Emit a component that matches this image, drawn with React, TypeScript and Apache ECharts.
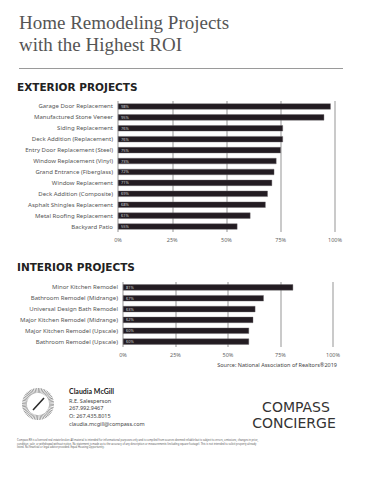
import React, { useEffect, useRef } from "react";
import * as echarts from "echarts";

const extCategories = [
  "Garage Door Replacement",
  "Manufactured Stone Veneer",
  "Siding Replacement",
  "Deck Addition (Replacement)",
  "Entry Door Replacement (Steel)",
  "Window Replacement (Vinyl)",
  "Grand Entrance (Fiberglass)",
  "Window Replacement",
  "Deck Addition (Composite)",
  "Asphalt Shingles Replacement",
  "Metal Roofing Replacement",
  "Backyard Patio",
];
const extValues = [98, 95, 76, 76, 75, 73, 72, 71, 69, 68, 61, 55];

const intCategories = [
  "Minor Kitchen Remodel",
  "Bathroom Remodel (Midrange)",
  "Universal Design Bath Remodel",
  "Major Kitchen Remodel (Midrange)",
  "Major Kitchen Remodel (Upscale)",
  "Bathroom Remodel (Upscale)",
];
const intValues = [81, 67, 63, 62, 60, 60];

const SANS = "'Noto Sans', 'DejaVu Sans', sans-serif";
const BAR = "#231c22";
const GRID = "#bdbdbd";

function xAxisDef(gridIndex: number) {
  return {
    type: "value" as const,
    gridIndex,
    min: 0,
    max: 100,
    interval: 25,
    axisLine: { show: false },
    axisTick: { show: false },
    splitLine: { show: true, lineStyle: { color: GRID, width: 1.6 } },
    axisLabel: {
      formatter: "{value}%",
      fontSize: 5.5,
      color: "#666",
      fontFamily: SANS,
      margin: 5,
    },
  };
}

function yAxisDef(gridIndex: number, data: string[]) {
  return {
    type: "category" as const,
    gridIndex,
    data,
    inverse: true,
    axisLine: { show: false },
    axisTick: { show: false },
    axisLabel: { fontSize: 6, color: "#555", fontFamily: SANS, margin: 5 },
  };
}

function barSeries(idx: number, data: number[]) {
  return {
    type: "bar" as const,
    xAxisIndex: idx,
    yAxisIndex: idx,
    data,
    barWidth: 6,
    itemStyle: { color: BAR, borderColor: "#6a646a", borderWidth: 0.4 },
    label: {
      show: true,
      position: "insideLeft" as const,
      distance: 3,
      formatter: "{c}%",
      fontSize: 4,
      color: "#cfcfcf",
      fontFamily: SANS,
    },
  };
}

const disclaimer = [
  "Compass RE is a licensed real estate broker. All material is intended for informational purposes only and is compiled from sources deemed reliable but is subject to errors, omissions, changes in price,",
  "condition, sale, or withdrawal without notice. No statement is made as to the accuracy of any description or measurements (including square footage). This is not intended to solicit property already",
  "listed. No financial or legal advice provided. Equal Housing Opportunity.",
];

export default function App() {
  const ref = useRef<HTMLDivElement>(null);
  useEffect(() => {
    document.body.style.margin = "0";
    if (!ref.current) return;
    const chart = echarts.init(ref.current, null, { renderer: "svg" });
    const option: any = {
      animation: false,
      backgroundColor: "#ffffff",
      grid: [
        { left: 118, right: 36, top: 101, height: 131 },
        { left: 123, right: 38, top: 282, height: 65 },
      ],
      xAxis: [xAxisDef(0), xAxisDef(1)],
      yAxis: [yAxisDef(0, extCategories), yAxisDef(1, intCategories)],
      series: [barSeries(0, extValues), barSeries(1, intValues)],
      graphic: [
        {
          type: "text",
          left: 19,
          top: 13,
          style: {
            text: "Home Remodeling Projects",
            font: "19px 'Liberation Serif', 'DejaVu Serif', serif",
            fill: "#555",
          },
        },
        {
          type: "text",
          left: 19,
          top: 35,
          style: {
            text: "with the Highest ROI",
            font: "19px 'Liberation Serif', 'DejaVu Serif', serif",
            fill: "#555",
          },
        },
        {
          type: "line",
          shape: { x1: 19, y1: 68.5, x2: 343, y2: 68.5 },
          style: { stroke: "#9a9a9a", lineWidth: 1 },
        },
        {
          type: "text",
          left: 17,
          top: 81,
          style: {
            text: "EXTERIOR PROJECTS",
            font: "bold 10.5px 'DejaVu Sans', sans-serif",
            fill: "#222",
          },
        },
        {
          type: "text",
          left: 17,
          top: 261,
          style: {
            text: "INTERIOR PROJECTS",
            font: "bold 10.5px 'DejaVu Sans', sans-serif",
            fill: "#222",
          },
        },
        {
          type: "text",
          right: 34,
          top: 362,
          style: {
            text: "Source: National Association of Realtors\u00AE2019",
            font: "5.5px 'Noto Sans', sans-serif",
            fill: "#444",
          },
        },
        // logo
        {
          type: "circle",
          shape: { cx: 38, cy: 404, r: 13.5 },
          style: {
            fill: "none",
            stroke: "#8a8a8a",
            lineWidth: 5,
            lineDash: [0.7, 0.7],
          },
        },
        {
          type: "line",
          shape: { x1: 33, y1: 410, x2: 44, y2: 398 },
          style: { stroke: "#2a2a2a", lineWidth: 1.6 },
        },
        {
          type: "text",
          left: 69,
          top: 387,
          style: {
            text: "Claudia McGill",
            font: "bold 7px Lato, 'Noto Sans', sans-serif",
            fill: "#222",
          },
        },
        {
          type: "text",
          left: 69,
          top: 397,
          style: {
            text: "R.E. Salesperson\n267.992.9467\nO: 267.435.8015\nclaudia.mcgill@compass.com",
            font: "5.5px 'Noto Sans', sans-serif",
            fill: "#444",
            lineHeight: 7.6,
          },
        },
        {
          type: "text",
          x: 296,
          y: 407,
          style: {
            text: "COMPASS",
            font: "14px 'DejaVu Sans', sans-serif",
            fill: "#333",
            textAlign: "center",
            textVerticalAlign: "middle",
          },
        },
        {
          type: "text",
          x: 294,
          y: 422.5,
          style: {
            text: "CONCIERGE",
            font: "14px 'DejaVu Sans', sans-serif",
            fill: "#333",
            textAlign: "center",
            textVerticalAlign: "middle",
          },
        },
        {
          type: "text",
          left: 17,
          top: 438,
          style: {
            text: disclaimer.join("\n"),
            font: "2.6px 'Noto Sans', sans-serif",
            fill: "#555",
            lineHeight: 3.6,
          },
        },
      ],
    };
    chart.setOption(option);
    return () => chart.dispose();
  }, []);
  return <div ref={ref} style={{ width: 371, height: 480 }} />;
}
